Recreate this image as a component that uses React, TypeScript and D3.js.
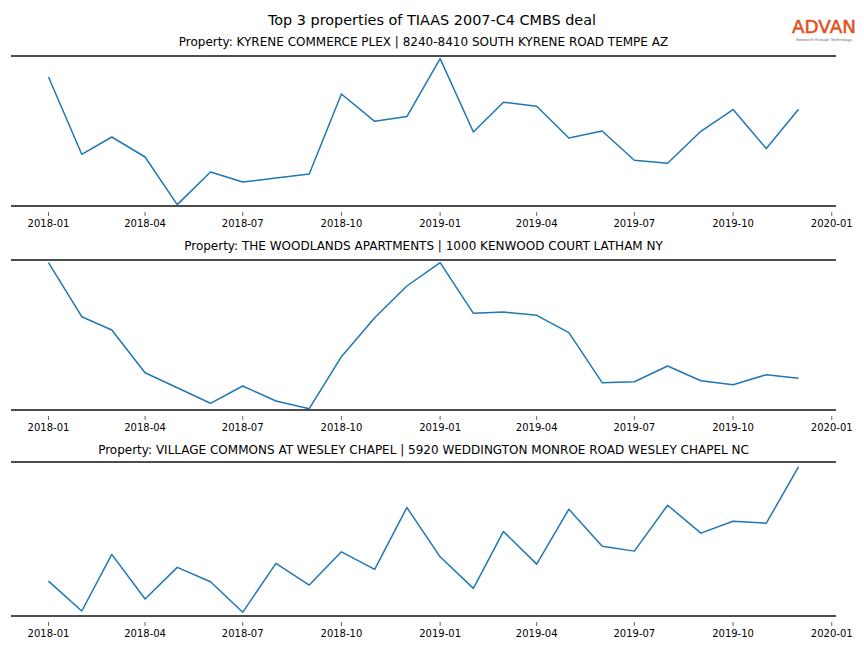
import React from "react";
import * as d3 from "d3";

const months: string[] = [
  "2018-01", "2018-02", "2018-03", "2018-04", "2018-05", "2018-06",
  "2018-07", "2018-08", "2018-09", "2018-10", "2018-11", "2018-12",
  "2019-01", "2019-02", "2019-03", "2019-04", "2019-05", "2019-06",
  "2019-07", "2019-08", "2019-09", "2019-10", "2019-11", "2019-12",
];

const titles: string[] = [
  "Property: KYRENE COMMERCE PLEX | 8240-8410 SOUTH KYRENE ROAD TEMPE AZ",
  "Property: THE WOODLANDS APARTMENTS | 1000 KENWOOD COURT LATHAM NY",
  "Property: VILLAGE COMMONS AT WESLEY CHAPEL | 5920 WEDDINGTON MONROE ROAD WESLEY CHAPEL NC",
];

const kyrene: number[] = [
  129.0, 51.7, 69.0, 49.0, 1.4, 34.0, 24.0, 28.0, 32.0, 112.0, 84.7, 89.4,
  147.4, 74.0, 103.7, 99.7, 68.0, 75.0, 45.7, 42.7, 74.7, 96.4, 57.4, 96.7,
];
const woodlands: number[] = [
  147.3, 93.3, 80.0, 37.3, 22.3, 6.7, 24.0, 9.0, 1.3, 53.3, 92.3, 124.0,
  147.3, 96.7, 98.0, 94.7, 77.3, 27.3, 28.3, 44.0, 29.3, 25.3, 35.3, 31.7,
];
const village: number[] = [
  35.0, 5.0, 61.7, 17.0, 48.7, 34.3, 3.7, 52.7, 31.0, 64.3, 46.7, 108.7,
  59.3, 27.7, 84.7, 52.0, 107.0, 70.0, 65.0, 111.0, 83.0, 95.0, 93.0, 149.3,
];

const seriesList: number[][] = [kyrene, woodlands, village];
const yLimits: [number, number][] = [[0, 150], [0, 150], [0, 154.3]];

const tickLabels: string[] = [
  "2018-01", "2018-04", "2018-07", "2018-10", "2019-01",
  "2019-04", "2019-07", "2019-10", "2020-01",
];

const W = 864;
const H = 648;
const FONT = "DejaVu Sans, sans-serif";

const panels = [
  { top: 56, bottom: 206, titleY: 46 },
  { top: 260, bottom: 410, titleY: 250 },
  { top: 462, bottom: 616, titleY: 454 },
];

const parse = d3.timeParse("%Y-%m");

export default function App() {
  const dates = months.map((m) => parse(m) as Date);
  const [d0, d1] = d3.extent(dates) as [Date, Date];
  const span = d1.getTime() - d0.getTime();
  const pad = span * 0.05;
  const x = d3
    .scaleTime()
    .domain([new Date(d0.getTime() - pad), new Date(d1.getTime() + pad)])
    .range([11, 836]);
  const ticks = tickLabels.map((t) => parse(t) as Date);

  return (
    <svg
      width={W}
      height={H}
      style={{ position: "absolute", left: 0, top: 0, background: "#fff" }}
    >
      <text
        x={432}
        y={25}
        textAnchor="middle"
        fontFamily={FONT}
        fontSize={14.4}
        fill="#000"
      >
        Top 3 properties of TIAAS 2007-C4 CMBS deal
      </text>
      <g>
        <text
          x={824}
          y={33}
          textAnchor="middle"
          fontFamily={FONT}
          fontSize={18}
          fill="#e2501f"
          stroke="#e2501f"
          strokeWidth={0.5}
          textLength={64}
          lengthAdjust="spacingAndGlyphs"
        >
          ADVAN
        </text>
        <text
          x={824}
          y={41}
          textAnchor="middle"
          fontFamily={FONT}
          fontSize={3.8}
          fill="#666"
        >
          Research through Technology
        </text>
      </g>
      {panels.map((p, i) => {
        const y = d3.scaleLinear().domain(yLimits[i]).range([p.bottom, p.top]);
        const line = d3
          .line<number>()
          .x((_, j) => x(dates[j]))
          .y((v) => y(v));
        return (
          <g key={i}>
            <text
              x={423.5}
              y={p.titleY}
              textAnchor="middle"
              fontFamily={FONT}
              fontSize={12}
              fill="#000"
            >
              {titles[i]}
            </text>
            <path
              d={line(seriesList[i]) || ""}
              fill="none"
              stroke="#1f77b4"
              strokeWidth={1.5}
              strokeLinejoin="round"
            />
            <line x1={11} x2={836} y1={p.top} y2={p.top} stroke="#4d4d4d" strokeWidth={2} />
            <line x1={11} x2={836} y1={p.bottom} y2={p.bottom} stroke="#4d4d4d" strokeWidth={2} />
            {ticks.map((t, k) => (
              <g key={k} transform={`translate(${x(t)},0)`}>
                <line y1={p.bottom + 6} y2={p.bottom + 10} stroke="#666" strokeWidth={1} />
                <text
                  y={p.bottom + 21}
                  textAnchor="middle"
                  fontFamily={FONT}
                  fontSize={10}
                  fill="#000"
                >
                  {tickLabels[k]}
                </text>
              </g>
            ))}
          </g>
        );
      })}
    </svg>
  );
}
